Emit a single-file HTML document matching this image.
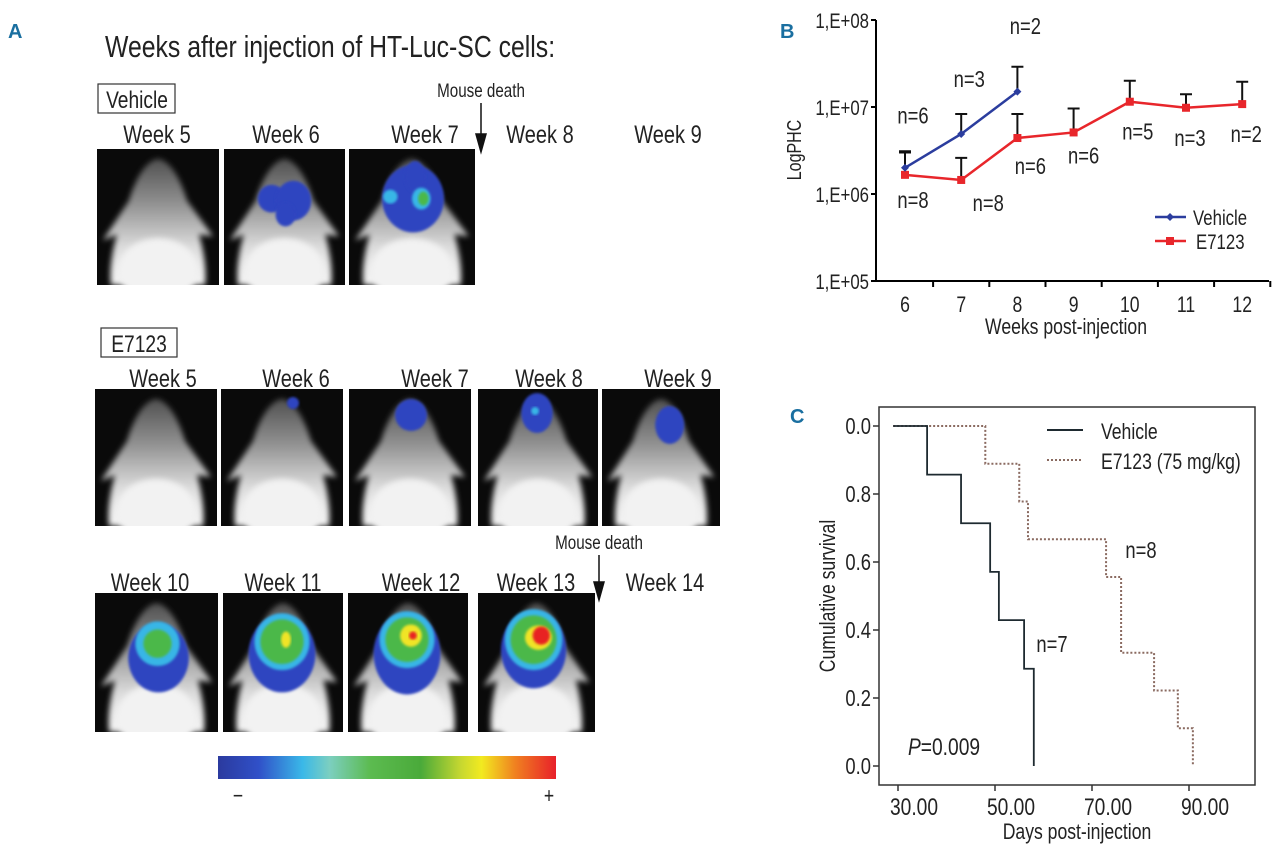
<!DOCTYPE html>
<html><head><meta charset="utf-8"><style>
html,body{margin:0;padding:0;background:#fff;}
body{width:1280px;height:846px;overflow:hidden;position:relative;font-family:"Liberation Sans",sans-serif;}
svg{position:absolute;left:0;top:0;}
</style></head><body>
<svg id="fig" width="1280" height="846" viewBox="0 0 1280 846" xmlns="http://www.w3.org/2000/svg">
<defs>
<filter id="blur3" x="-20%" y="-20%" width="140%" height="140%"><feGaussianBlur stdDeviation="3"/></filter>
<filter id="blur1"><feGaussianBlur stdDeviation="1.2"/></filter>
<linearGradient id="bodyg" x1="0" y1="0" x2="0" y2="1">
<stop offset="0" stop-color="#505050"/><stop offset="0.35" stop-color="#909090"/><stop offset="0.7" stop-color="#dcdcdc"/><stop offset="1" stop-color="#f5f5f5"/></linearGradient>
<linearGradient id="cbar" x1="0" y1="0" x2="1" y2="0">
<stop offset="0" stop-color="#2b3a9e"/><stop offset="0.12" stop-color="#3050c8"/><stop offset="0.25" stop-color="#3ab8e8"/><stop offset="0.33" stop-color="#7ccfc0"/><stop offset="0.45" stop-color="#5cbb50"/><stop offset="0.6" stop-color="#4aaa3a"/><stop offset="0.72" stop-color="#c8d830"/><stop offset="0.78" stop-color="#f2ea20"/><stop offset="0.88" stop-color="#f08020"/><stop offset="1" stop-color="#e8202a"/></linearGradient>
</defs>
<g id="panelA"></g>
<g id="panelB"></g>
<g id="panelC"></g>
</svg>
<script>
// ---------- Panel B data ----------
const weeksB = [6,7,8,9,10,11,12];
const vehicleVals = [2.0e6, 4.9e6, 1.5e7];
const vehicleErr = [3.1e6, 8.3e6, 2.9e7];
const vehicleN = ["n=6","n=3","n=2"];
const e7123Vals = [1.66e6, 1.45e6, 4.4e6, 5.1e6, 1.15e7, 9.8e6, 1.08e7];
const e7123Err = [3.0e6, 2.6e6, 8.3e6, 9.6e6, 2.0e7, 1.4e7, 1.95e7];
const e7123N = ["n=8","n=8","n=6","n=6","n=5","n=3","n=2"];
const yTicksB = [5,6,7,8];
const yTickLabelsB = ["1,E+05","1,E+06","1,E+07","1,E+08"];
// ---------- Panel C data ----------
const vehTimes = [36, 43, 49, 50.8, 56, 58];
const vehSurv = [0.857, 0.714, 0.571, 0.429, 0.286, 0];
const eTimes = [48, 55, 56.8, 72.9, 76, 82.8, 87.7, 90.8];
const eSurv = [0.889, 0.778, 0.667, 0.556, 0.333, 0.222, 0.111, 0];
const xTicksC = [30,50,70,90];
const xTickLabelsC = ["30.00","50.00","70.00","90.00"];
const yTicksC = [0,0.2,0.4,0.6,0.8,1.0];
const yTickLabelsC = ["0.0","0.2","0.4","0.6","0.8","0.0"];

const NS="http://www.w3.org/2000/svg";
function mk(tag, attrs, parent, text){const e=document.createElementNS(NS,tag);for(const k in attrs)e.setAttribute(k,attrs[k]);if(text!==undefined)e.textContent=text;parent.appendChild(e);return e;}
function T(parent,x,y,s,size,anchor,rot){
 let tr=`translate(${x} ${y})`+(rot?` rotate(${rot})`:'')+' scale(0.8 1)';
 return mk('text',{x:0,y:0,'font-size':size,fill:'#222','text-anchor':anchor||'start',transform:tr},parent,s);
}

// ---------- Panel B ----------
const B=document.getElementById('panelB');
const bx0=876, bx1=1269, bcx0=905, bstep=56.2;
function xB(i){return bcx0+i*bstep;}
function yB(v){return 281-(Math.log10(v)-5)*87;}
let t=mk('text',{x:780,y:38,fill:'#1a6fa0','font-size':20,'font-weight':'bold'},B,'B');


let ax=mk('path',{d:`M${bx0} 20 V281 H${bx1}`,stroke:'#000','stroke-width':2,fill:'none'},B);


yTicksB.forEach((p,i)=>{const y=281-(p-5)*87;
 const tk=mk('line',{x1:bx0-5,x2:bx0,y1:y,y2:y,stroke:'#000','stroke-width':2},B);
 
 
 const l=T(B,bx0-7,y+8,yTickLabelsB[i],21,'end');
 
 
});
for(let i=1;i<=weeksB.length;i++){const x=bcx0-bstep/2+i*bstep;
 const tk=mk('line',{x1:x,x2:x,y1:281,y2:287,stroke:'#000','stroke-width':2},B);
 
 }
weeksB.forEach((w,i)=>{const l=T(B,xB(i),312,String(w),22,'middle');
 
 });
t=T(B,1066,334,'Weeks post-injection',22,'middle');


t=T(B,801,150,'LogPHC',20,'middle',-90);


function series(vals,errs,color,name,marker){
 vals.forEach((v,i)=>{const x=xB(i),y0=yB(v),y1=yB(errs[i]);
  const e=mk('path',{d:`M${x} ${y0} V${y1} M${x-6} ${y1} H${x+6}`,stroke:'#111','stroke-width':2,fill:'none'},B);
  
  });
 const pl=mk('polyline',{points:vals.map((v,i)=>xB(i)+','+yB(v)).join(' '),stroke:color,'stroke-width':2.5,fill:'none'},B);
 
 
 vals.forEach((v,i)=>{let m;
  if(marker=='sq')m=mk('rect',{x:xB(i)-4,y:yB(v)-4,width:8,height:8,fill:color},B);
  else m=mk('path',{d:`M${xB(i)} ${yB(v)-4} l4 4 l-4 4 l-4 -4z`,fill:color},B);
  
  });
}
series(e7123Vals,e7123Err,'#e8262b','e7123','sq');
series(vehicleVals,vehicleErr,'#2b3d9e','vehicle','dm');
const vLabOff=[[8,-28],[8,-27],[8,-33]];
vehicleN.forEach((s,i)=>{const l=T(B,xB(i)+vLabOff[i][0],yB(vehicleErr[i])+vLabOff[i][1],s,23,'middle');
 
 });
const eLabOff=[[8,33],[27,31],[13,36],[10,31],[8,38],[4,38],[4,38]];
e7123N.forEach((s,i)=>{const l=T(B,xB(i)+eLabOff[i][0],yB(e7123Vals[i])+eLabOff[i][1],s,23,'middle');
 
 });
let lg=mk('g',{},B);


mk('line',{x1:1155,x2:1186,y1:217,y2:217,stroke:'#2b3d9e','stroke-width':2.5},lg);
mk('path',{d:'M1170 213 l4 4 l-4 4 l-4 -4z',fill:'#2b3d9e'},lg);
T(lg,1193,225,'Vehicle',21);
mk('line',{x1:1155,x2:1186,y1:241,y2:241,stroke:'#e8262b','stroke-width':2.5},lg);
mk('rect',{x:1166,y:237,width:8,height:8,fill:'#e8262b'},lg);
T(lg,1196,249,'E7123',21);

// ---------- Panel C ----------
const C=document.getElementById('panelC');
function xC(d){return 898+(d-30)*4.85;}
function yC(s){return 766-s*340;}
t=mk('text',{x:790,y:423,fill:'#1a6fa0','font-size':20,'font-weight':'bold'},C,'C');


let box=mk('rect',{x:879,y:407,width:376,height:378,fill:'none',stroke:'#333','stroke-width':1.5},C);


yTicksC.forEach((v,i)=>{const y=yC(v);
 const tk=mk('line',{x1:873,x2:879,y1:y,y2:y,stroke:'#333','stroke-width':1.5},C);
 
 
 const l=T(C,871,y+8,yTickLabelsC[i],23,'end');
 
 });
xTicksC.forEach((v,i)=>{const x=xC(v);
 const tk=mk('line',{x1:x,x2:x,y1:785,y2:791,stroke:'#333','stroke-width':1.5},C);
 
 
 const l=T(C,x+16,815,xTickLabelsC[i],24,'middle');
 
 });
t=T(C,1077,839,'Days post-injection',22,'middle');


t=T(C,835,596,'Cumulative survival',22,'middle',-90);


function km(times,surv){let d=`M${xC(29)} ${yC(1)}`;times.forEach((tt,i)=>{d+=` H${xC(tt)} V${yC(surv[i])}`;});return d;}
let kv=mk('path',{d:km(eTimes,eSurv),stroke:'#8a6a60','stroke-width':2,'stroke-dasharray':'2,2',fill:'none'},C);


kv=mk('path',{d:km(vehTimes,vehSurv),stroke:'#1e2a30','stroke-width':1.8,fill:'none'},C);


lg=mk('g',{},C);


mk('line',{x1:1047,x2:1083,y1:430,y2:430,stroke:'#1e2a30','stroke-width':2},lg);
T(lg,1101,439,'Vehicle',22);
mk('line',{x1:1047,x2:1083,y1:460,y2:460,stroke:'#8a6a60','stroke-width':2,'stroke-dasharray':'2,2'},lg);
T(lg,1101,469,'E7123 (75 mg/kg)',22);
t=T(C,1141,558,'n=8',23,'middle');


t=T(C,1052,652,'n=7',23,'middle');


t=T(C,908,755,'',24,'start');


mk('tspan',{'font-style':'italic'},t,'P');
mk('tspan',{},t,'=0.009');

// ---------- Panel A ----------
const A=document.getElementById('panelA');
function txt(x,y,s,size,name,anchor){const l=T(A,x,y,s,size,anchor||'middle');
 
 return l;}
t=mk('text',{x:8,y:38,fill:'#1a6fa0','font-size':20,'font-weight':'bold'},A,'A');


txt(105,57,'Weeks after injection of HT-Luc-SC cells:',31,'panel-a-title','start');
let bx=mk('rect',{x:98,y:84,width:77,height:29,fill:'#fff',stroke:'#333','stroke-width':1.2},A);


txt(137,108,'Vehicle',24,'vehicle-group-label');
bx=mk('rect',{x:101,y:328,width:76,height:29,fill:'#fff',stroke:'#333','stroke-width':1.2},A);


txt(139,352,'E7123',24,'e7123-group-label');
function arrow(x,y0,y1,label,ly){txt(x,ly,label,19,'mouse-death-label');
 const a=mk('path',{d:`M${x} ${y0} V${y1-12} M${x-5} ${y1-18} L${x} ${y1} L${x+5} ${y1-18}Z`,stroke:'#111','stroke-width':1.5,fill:'#111'},A);
 
 }
arrow(481,103,152,'Mouse death',97);
arrow(599,555,600,'Mouse death',549);
[[157,'Week 5'],[286,'Week 6'],[425,'Week 7'],[540,'Week 8'],[668,'Week 9']].forEach(a=>txt(a[0],143,a[1],25,'week-label'));
[[163,'Week 5'],[296,'Week 6'],[435,'Week 7'],[549,'Week 8'],[678,'Week 9']].forEach(a=>txt(a[0],387,a[1],25,'week-label'));
[[150,'Week 10'],[283,'Week 11'],[421,'Week 12'],[536,'Week 13'],[665,'Week 14']].forEach(a=>txt(a[0],591,a[1],25,'week-label'));
const blobCols=['#2e44c0','#38b6e6','#4cb848','#f0e428','#e82420'];
function mouse(x,y,w,h,blobs,name){
 const g=mk('g',{transform:`translate(${x} ${y})`},A);
 
 
 mk('rect',{x:0,y:0,width:w,height:h,fill:'#0a0a0a'},g);
 const sx=w/122, sy=h/137;
 const body=`M${61*sx} ${10*sy} C${75*sx} ${12*sy} ${85*sx} ${35*sy} ${90*sx} ${52*sy} L${116*sx} ${88*sy} L${102*sx} ${86*sy} C${106*sx} ${100*sy} ${110*sx} ${120*sy} ${108*sx} ${h} L${14*sx} ${h} C${12*sx} ${120*sy} ${16*sx} ${100*sy} ${20*sx} ${86*sy} L${6*sx} ${92*sy} L${32*sx} ${52*sy} C${37*sx} ${35*sy} ${47*sx} ${12*sy} ${61*sx} ${10*sy}Z`;
 const cp='cp'+name;
 const c=mk('clipPath',{id:cp},g); mk('rect',{x:0,y:0,width:w,height:h},c);
 const inner=mk('g',{'clip-path':`url(#${cp})`},g);
 mk('path',{d:body,fill:'url(#bodyg)',filter:'url(#blur3)'},inner);
 mk('ellipse',{cx:61*sx,cy:122*sy,rx:40*sx,ry:32*sy,fill:'#f2f2f2',filter:'url(#blur3)'},inner);
 blobs.forEach(b=>{mk('ellipse',{cx:b[0]*sx,cy:b[1]*sy,rx:b[2]*sx,ry:b[3]*sy,fill:blobCols[b[4]],filter:'url(#blur1)'},inner);});
}
mouse(97,149,122,136,[],'vehicle-week5-image');
mouse(224,149,121,136,[[48,50,14,14,0],[70,52,18,20,0],[62,66,10,12,0]],'vehicle-week6-image');
mouse(349,149,126,136,[[62,50,30,34,0],[64,28,10,16,0],[40,48,7,7,1],[70,50,9,11,1],[72,50,5,7,2]],'vehicle-week7-image');
const r2=[[95,389,122,137,[]],[221,389,122,137,[[72,14,6,6,0]]],[349,389,122,137,[[62,26,16,16,0]]],[478,389,120,137,[[60,24,16,20,0],[58,22,4,4,1]]],[602,389,118,137,[[70,36,15,19,0]]]];
r2.forEach((r,i)=>mouse(r[0],r[1],r[2],r[3],r[4],'e7123-week'+(5+i)+'-image'));
const r3=[[95,593,123,139,[[63,64,30,34,0],[62,50,22,22,1],[62,50,14,14,2]]],[223,593,120,139,[[60,60,34,38,0],[60,48,28,28,1],[60,48,22,22,2],[64,46,5,8,3]]],[348,593,120,139,[[60,60,34,40,0],[60,46,28,28,1],[60,46,22,22,2],[64,42,11,11,3],[66,42,4,4,4]]],[478,593,117,139,[[58,56,34,38,0],[58,46,30,30,1],[58,46,24,24,2],[63,44,14,12,3],[66,42,9,9,4]]]];
r3.forEach((r,i)=>mouse(r[0],r[1],r[2],r[3],r[4],'e7123-week'+(10+i)+'-image'));
const cb=mk('rect',{x:218,y:756,width:338,height:23,fill:'url(#cbar)'},A);


txt(238,803,'−',22,'color-bar-min-label');
txt(549,803,'+',22,'color-bar-max-label');
</script>
</body></html>
